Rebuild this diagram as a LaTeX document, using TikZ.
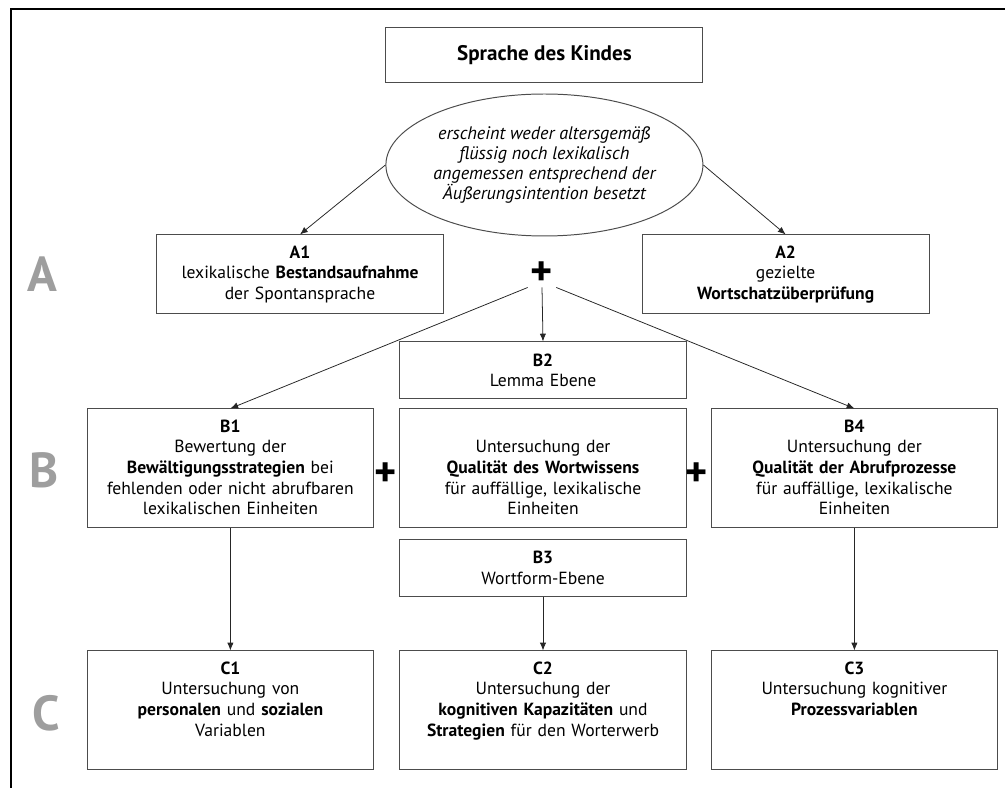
\documentclass[tikz,border=0pt]{standalone}
\usepackage{fontspec}
\setmainfont{PT Sans}
\usetikzlibrary{shapes.geometric,arrows.meta}

\tikzset{
    basebox/.style={draw=black!70, line width=0.7pt, text width=196pt, align=center,
        inner xsep=4pt, font=\fontsize{12.5}{14.7}\selectfont},
    tallbox/.style={basebox, inner ysep=7.6pt, text height=9pt, text depth=60.4pt},
    midbox/.style={basebox, inner ysep=7.6pt, text height=23.7pt, text depth=45.7pt},
    abox/.style={basebox, minimum height=56.2pt},
    flatbox/.style={basebox, minimum height=40.5pt},
    plussign/.style={inner sep=0pt, minimum size=0.7cm, font=\fontsize{30}{30}\selectfont\bfseries},
    rowlabel/.style={text=black!38, font=\fontsize{35}{35}\selectfont\bfseries},
    arr/.style={-{Latex[length=5.5pt,width=4.5pt]}, line width=0.55pt, black!85}
}

\begin{document}
\begin{tikzpicture}
    \useasboundingbox (0,0) rectangle (25.125,-19.7);

    % Frame
    \draw[line width=1.4pt] (0.275,-19.7) -- (0.275,-0.225) -- (25.125,-0.225);

    % Top
    \node[draw=black!70, line width=0.7pt, minimum width=225.5pt, minimum height=39.8pt,
        font=\fontsize{15}{18}\selectfont\bfseries] (kind) at (13.61,-1.375) {Sprache des Kindes};
    \node[draw=black!70, line width=0.7pt, ellipse, minimum width=225.5pt, minimum height=101pt] (befund) at (13.61,-4.125) {};
    \node[align=center, font=\fontsize{12.9}{14.2}\selectfont\itshape] at (befund.center)
        {erscheint weder altersgemäß\\flüssig noch lexikalisch\\angemessen entsprechend der\\Äußerungsintention besetzt};

    % Level A
    \node[rowlabel] (la) at (1.05,-6.85) {A};
    \node[abox] (a1) at (7.5,-6.86) {\textbf{A1}\\lexikalische \textbf{Bestandsaufnahme}\\der Spontansprache};
    \node[abox] (a2) at (19.64,-6.86) {\textbf{A2}\\gezielte\\\textbf{Wortschatzüberprüfung}};
    \node[plussign] (plusa) at (13.55,-6.83) {+};

    \draw[arr] (befund.west) -- (a1.north);
    \draw[arr] (befund.east) -- (a2.north);

    % Level B
    \node[rowlabel] (lb) at (1.1,-11.75) {B};
    \node[flatbox] (b2) at (13.575,-9.26) {\textbf{B2}\\Lemma Ebene};
    \node[tallbox] (b1) at (5.76,-11.71) {\textbf{B1}\\Bewertung der\\\textbf{Bewältigungsstrategien} bei\\fehlenden oder nicht abrufbaren\\lexikalischen Einheiten};
    \node[midbox] (bmid) at (13.575,-11.71) {Untersuchung der\\\textbf{Qualität des Wortwissens}\\für auffällige, lexikalische\\Einheiten};
    \node[tallbox] (b4) at (21.36,-11.71) {\textbf{B4}\\Untersuchung der\\\textbf{Qualität der Abrufprozesse}\\für auffällige, lexikalische\\Einheiten};
    \node[flatbox] (b3) at (13.575,-14.19) {\textbf{B3}\\Wortform-Ebene};
    \node[plussign] (plusl) at (9.65,-11.875) {+};
    \node[plussign] (plusr) at (17.425,-11.875) {+};

    \draw[arr] (plusa.south west) -- (b1.north);
    \draw[arr] (plusa.south) -- (b2.north);
    \draw[arr] (plusa.south east) -- (b4.north);

    % Level C
    \node[rowlabel] (lc) at (1.15,-17.83) {C};
    \node[tallbox] (c1) at (5.76,-17.76) {\textbf{C1}\\Untersuchung von\\\textbf{personalen} und \textbf{sozialen}\\Variablen};
    \node[tallbox] (c2) at (13.575,-17.76) {\textbf{C2}\\Untersuchung der\\\textbf{kognitiven Kapazitäten} und\\\textbf{Strategien} für den Worterwerb};
    \node[tallbox] (c3) at (21.36,-17.76) {\textbf{C3}\\Untersuchung kognitiver\\\textbf{Prozessvariablen}};

    \draw[arr] (b1.south) -- (c1.north);
    \draw[arr] (b3.south) -- (c2.north);
    \draw[arr] (b4.south) -- (c3.north);

\end{tikzpicture}
\end{document}
